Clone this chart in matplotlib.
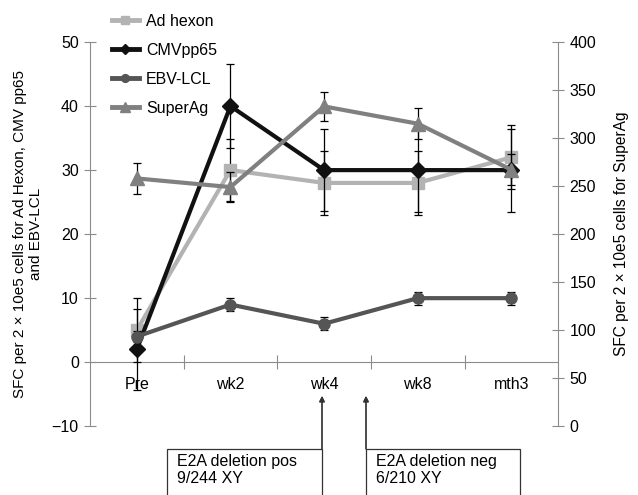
import matplotlib
matplotlib.use('Agg')
import matplotlib.pyplot as plt
from matplotlib.lines import Line2D
from matplotlib.patches import Rectangle
from matplotlib.ticker import FixedLocator, NullFormatter

plt.rcParams['font.family'] = ['Liberation Sans', 'DejaVu Sans']

# data
timepoints = ['Pre', 'wk2', 'wk4', 'wk8', 'mth3']
ad_hexon = [5, 30, 28, 28, 32]
ad_hexon_err = [5, 4.8, 5, 5, 5]
cmv_pp65 = [2, 40, 30, 30, 30]
cmv_pp65_err = [6.3, 6.5, 6.4, 6.5, 6.5]
ebv_lcl = [4, 9, 6, 10, 10]
ebv_lcl_err = [0.8, 1.0, 1.0, 1.0, 1.0]
super_ag = [258, 249, 333, 315, 267]
super_ag_err = [16, 16, 15, 16, 16]

left_ticks = [-10, 0, 10, 20, 30, 40, 50]
right_ticks = [0, 50, 100, 150, 200, 250, 300, 350, 400]

spine_col = '#8c8c8c'
fs = 11.5
eb = dict(ecolor='black', elinewidth=0.9, capsize=3, capthick=0.9)

fig = plt.figure(figsize=(6.38, 4.95), dpi=100)
ax = fig.add_axes([0.141, 0.139, 0.734, 0.776])
ax2 = ax.twinx()

x = list(range(len(timepoints)))

series = [
    (ax, ad_hexon, ad_hexon_err, '#b3b3b3', 's', 9, 'Ad hexon', 3),
    (ax, cmv_pp65, cmv_pp65_err, '#111111', 'D', 8, 'CMVpp65', 4),
    (ax, ebv_lcl, ebv_lcl_err, '#555555', 'o', 8, 'EBV-LCL', 5),
    (ax2, super_ag, super_ag_err, '#808080', '^', 10, 'SuperAg', 3),
]
handles = []
for a, vals, errs, col, mk, ms, lab, z in series:
    a.errorbar(x, vals, yerr=errs, color=col, lw=3, marker=mk, ms=ms, zorder=z, **eb)
    handles.append(Line2D([], [], color=col, lw=3.5, marker=mk, ms=ms * 0.7, label=lab))

ax.set_xlim(-0.5, len(timepoints) - 0.5)
ax.set_ylim(-10, 50)
ax2.set_ylim(0, 400)

# x axis line at zero with boundary ticks, labels under category centres
for s in ['top', 'right']:
    ax.spines[s].set_visible(False)
ax.spines['bottom'].set_position(('data', 0))
ax.spines['bottom'].set_color(spine_col)
ax.spines['left'].set_color(spine_col)
ax.xaxis.set_major_locator(FixedLocator([i + 0.5 for i in x[:-1]]))
ax.xaxis.set_major_formatter(NullFormatter())
ax.xaxis.set_minor_locator(FixedLocator(x))
ax.set_xticklabels(timepoints, minor=True)
ax.tick_params(axis='x', which='major', direction='inout', length=10, color=spine_col)
ax.tick_params(axis='x', which='minor', length=0, pad=11, labelsize=fs)

ax.set_yticks(left_ticks)
ax.set_yticklabels(['\u221210' if t < 0 else str(t) for t in left_ticks])
ax.tick_params(axis='y', direction='inout', length=8, color=spine_col, labelsize=fs, pad=4)
ax.set_ylabel('SFC per 2 \u00d7 10e5 cells for Ad Hexon, CMV pp65\nand EBV-LCL',
              fontsize=11, labelpad=6, linespacing=1.25)

for s in ['top', 'left', 'bottom']:
    ax2.spines[s].set_visible(False)
ax2.spines['right'].set_color(spine_col)
ax2.set_yticks(right_ticks)
ax2.tick_params(axis='y', direction='inout', length=8, color=spine_col, labelsize=fs, pad=4)
ax2.set_ylabel('SFC per 2 \u00d7 10e5 cells for SuperAg', fontsize=11.2, labelpad=13)

fig.legend(handles=handles, loc='upper left', bbox_to_anchor=(0.176, 0.972),
           frameon=False, fontsize=fs, handlelength=1.65, handletextpad=0.45,
           labelspacing=0.87, borderpad=0, borderaxespad=0)

# annotation boxes and arrows below the axis
W, H = 638, 495
boxes = [(167, 322, 'E2A deletion pos\n9/244 XY', 322),
         (366, 520, 'E2A deletion neg\n6/210 XY', 366)]
for x0, x1, txt, ax_x in boxes:
    fig.add_artist(Rectangle((x0 / W, 1 - 510 / H), (x1 - x0) / W, (510 - 449) / H,
                             transform=fig.transFigure, fill=False, lw=0.9,
                             edgecolor='#333333', clip_on=False))
    fig.text((x0 + 10) / W, 1 - 454 / H, txt, fontsize=fs, va='top', ha='left',
             linespacing=1.15)
    fig.add_artist(plt.annotate('', xy=(ax_x / W, 1 - 396 / H), xycoords='figure fraction',
                                xytext=(ax_x / W, 1 - 449 / H), textcoords='figure fraction',
                                arrowprops=dict(arrowstyle='-|>', color='#333333', lw=0.9,
                                                mutation_scale=8, shrinkA=0, shrinkB=0)))

fig.savefig('out.png', dpi=100)
